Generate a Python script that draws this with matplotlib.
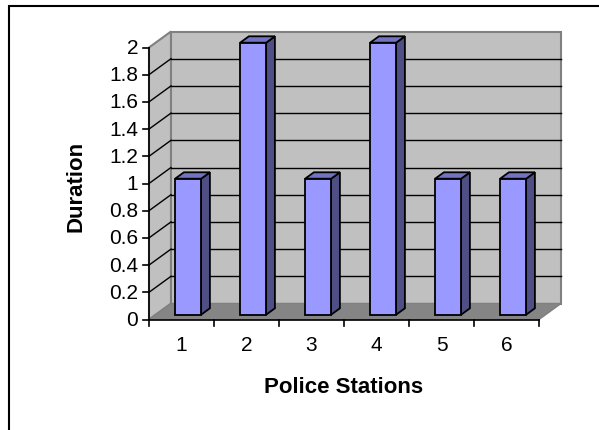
import matplotlib
matplotlib.use("Agg")
import matplotlib.pyplot as plt
from matplotlib.patches import Polygon, Rectangle

# ---- data ----
stations = ["1", "2", "3", "4", "5", "6"]
duration = [1, 2, 1, 2, 1, 1]
y_ticks = [0, 0.2, 0.4, 0.6, 0.8, 1, 1.2, 1.4, 1.6, 1.8, 2]
y_tick_labels = ["0", "0.2", "0.4", "0.6", "0.8", "1", "1.2", "1.4", "1.6", "1.8", "2"]
y_max = 2

# ---- layout (pixels of a 599x431 canvas) ----
W, H = 599, 431
X0, Y0 = 149, 320.5      # front-left corner of the floor
CAT_W, UNIT_H = 65, 136  # pixels per category / per value unit
DX_PX, DY_PX = 22, 16    # depth offset of the back wall

plt.rcParams["font.family"] = ["Liberation Sans", "DejaVu Sans"]

fig = plt.figure(figsize=(W / 100, H / 100), dpi=100)
ax = fig.add_axes([0, 0, 1, 1])
ax.set_xlim(-X0 / CAT_W, (W - X0) / CAT_W)
ax.set_ylim(-(H - Y0) / UNIT_H, Y0 / UNIT_H)
ax.axis("off")

n = len(stations)
dx = DX_PX / CAT_W
dy = DY_PX / UNIT_H

wall_c = "#C0C0C0"
floor_c = "#858585"
edge_c = "#808080"

# side wall, back wall, floor
ax.add_patch(Polygon([(0, 0), (dx, dy), (dx, y_max + dy), (0, y_max)],
                     closed=True, fc=wall_c, ec=edge_c, lw=1.5, zorder=1))
ax.add_patch(Polygon([(dx, dy), (n + dx, dy), (n + dx, y_max + dy), (dx, y_max + dy)],
                     closed=True, fc=wall_c, ec=edge_c, lw=1.5, zorder=1))
ax.add_patch(Polygon([(0, 0), (n, 0), (n + dx, dy), (dx, dy)],
                     closed=True, fc=floor_c, ec=edge_c, lw=1.0, zorder=1))

# gridlines on the walls
for v in y_ticks:
    if v <= 0 or v >= y_max:
        continue
    ax.plot([0, dx], [v, v + dy], color="black", lw=1.0, zorder=2)
    ax.plot([dx, n + dx], [v + dy, v + dy], color="black", lw=1.0, zorder=2)

# value axis with ticks
tick_len_x = 6 / CAT_W
tick_len_y = 6 / UNIT_H
ax.plot([0, 0], [0, y_max], color="black", lw=1.2, zorder=3)
for v, lab in zip(y_ticks, y_tick_labels):
    ax.plot([-tick_len_x, 0], [v, v], color="black", lw=1.2, zorder=3)
    ax.text(-11 / CAT_W, v, lab, ha="right", va="center", fontsize=15, zorder=3)

# category axis with ticks
ax.plot([0, n], [0, 0], color="black", lw=1.2, zorder=3)
for i in range(n + 1):
    ax.plot([i, i], [0, -tick_len_y], color="black", lw=1.2, zorder=3)
for i, lab in enumerate(stations):
    ax.text(i + 0.5, -25 / UNIT_H, lab, ha="center", va="center", fontsize=15, zorder=3)

# 3D bars
half_w = 0.2
z0, z1 = 0.3, 0.7
front_c, side_c, top_c = "#9999FF", "#4F4F86", "#7373C4"
for i, v in enumerate(duration):
    c = i + 0.5
    xl, xr = c - half_w + z0 * dx, c + half_w + z0 * dx
    yb = z0 * dy
    ox, oy = (z1 - z0) * dx, (z1 - z0) * dy
    z = 5 + i
    ax.add_patch(Polygon([(xr, yb), (xr + ox, yb + oy), (xr + ox, v + yb + oy), (xr, v + yb)],
                         closed=True, fc=side_c, ec="black", lw=1.3, zorder=z))
    ax.add_patch(Polygon([(xl, v + yb), (xr, v + yb), (xr + ox, v + yb + oy), (xl + ox, v + yb + oy)],
                         closed=True, fc=top_c, ec="black", lw=1.3, zorder=z))
    ax.add_patch(Polygon([(xl, yb), (xr, yb), (xr, v + yb), (xl, v + yb)],
                         closed=True, fc=front_c, ec="black", lw=1.3, zorder=z))

# axis titles
ax.text(n / 2, -(388 - Y0) / UNIT_H, "Police Stations", ha="center", va="center",
        fontsize=16, fontweight="bold")
ax.text(-(X0 - 76) / CAT_W, (Y0 - 186.5) / UNIT_H, "Duration", ha="center", va="center",
        rotation=90, fontsize=16, fontweight="bold")

# chart border
fig.patches.append(Rectangle((9 / W, -0.2), 1.2, 1 - 6.5 / H + 0.2, transform=fig.transFigure,
                             fill=False, ec="black", lw=1.5))

fig.savefig("out.png", dpi=100)
